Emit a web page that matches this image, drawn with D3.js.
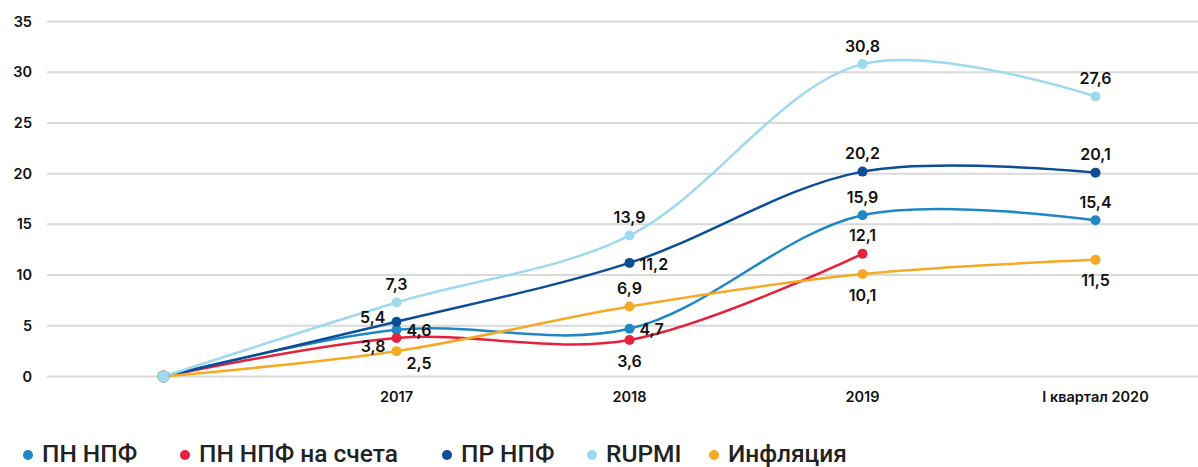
<!DOCTYPE html>
<html>
<head>
<meta charset="utf-8">
<script src="https://cdn.jsdelivr.net/npm/d3@7"></script>
<style>
  body { margin: 0; background: #fff; }
  svg { display: block; }
</style>
</head>
<body>
<div id="chart-area"></div>
<script>
// categories (first one is the unlabeled starting point)
const categories = ["", "2017", "2018", "2019", "I квартал 2020"];
const yTicks = [0, 5, 10, 15, 20, 25, 30, 35];

const seriesNames = ["ПН НПФ", "ПН НПФ на счета", "ПР НПФ", "RUPMI", "Инфляция"];
const pnNpf     = [0, 4.6, 4.7, 15.9, 15.4];
const pnNpfAcc  = [0, 3.8, 3.6, 12.1, null];
const prNpf     = [0, 5.4, 11.2, 20.2, 20.1];
const rupmi     = [0, 7.3, 13.9, 30.8, 27.6];
const inflation = [0, 2.5, 6.9, 10.1, 11.5];

const colors = ["#1f87c6", "#e8203d", "#0b4d97", "#9dd9ef", "#f6a923"];

const WIDTH = 1198, HEIGHT = 467;

// where each value label sits around its point
const labelPos = {
  "ПН НПФ":          [null, "right", "right", "top", "top"],
  "ПН НПФ на счета": [null, "left-bottom", "bottom", "top", null],
  "ПР НПФ":          [null, "left-top", "right", "top", "top"],
  "RUPMI":           [null, "top", "top", "top", "top"],
  "Инфляция":        [null, "right-bottom", "top", "bottom", "bottom"]
};

const values = [pnNpf, pnNpfAcc, prNpf, rupmi, inflation];
const series = seriesNames.map((name, i) => ({
  name,
  color: colors[i],
  points: values[i].map((v, j) => ({ cat: categories[j], v, j })).filter(d => d.v !== null)
}));

const svg = d3.select("#chart-area").append("svg")
  .attr("width", WIDTH)
  .attr("height", HEIGHT);

const x = d3.scaleBand()
  .domain(categories)
  .range([47, 1212]);

const y = d3.scaleLinear()
  .domain([0, 35])
  .range([376.5, 21.5]);

const cx = d => x(d.cat) + x.bandwidth() / 2;

// grid
svg.append("g").selectAll("line").data(yTicks).enter().append("line")
  .attr("x1", 47).attr("x2", WIDTH)
  .attr("y1", d => y(d)).attr("y2", d => y(d))
  .attr("stroke", "#d9d9d9")
  .attr("stroke-width", 2);

svg.append("g").selectAll("text").data(yTicks).enter().append("text")
  .attr("x", 32)
  .attr("y", d => y(d))
  .attr("dy", "0.35em")
  .attr("text-anchor", "end")
  .style("font-family", "Inter, sans-serif")
  .style("font-weight", 600)
  .style("font-size", "14.5px")
  .attr("fill", "#111")
  .text(d => d);

svg.append("g").selectAll("text").data(categories.filter(c => c !== "")).enter().append("text")
  .attr("x", d => x(d) + x.bandwidth() / 2)
  .attr("y", 402)
  .attr("text-anchor", "middle")
  .style("font-family", "Inter, sans-serif")
  .style("font-weight", 600)
  .style("font-size", "14.5px")
  .attr("fill", "#111")
  .text(d => d);

const line = d3.line()
  .x(cx)
  .y(d => y(d.v))
  .curve(d3.curveCatmullRom.alpha(0.5));

// draw RUPMI last so its start dot lies on top
const drawOrder = [0, 1, 2, 4, 3];

drawOrder.forEach(i => {
  const s = series[i];
  svg.append("path")
    .datum(s.points)
    .attr("d", line)
    .attr("fill", "none")
    .attr("stroke", s.color)
    .attr("stroke-width", 2.5);
});

drawOrder.forEach(i => {
  const s = series[i];
  svg.append("g").selectAll("circle").data(s.points).enter().append("circle")
    .attr("cx", cx)
    .attr("cy", d => y(d.v))
    .attr("r", d => d.j === 0 ? 6 : 5)
    .attr("fill", s.color);
});

const fmt = v => String(v).replace(".", ",");
const offsets = {
  "top":          [0, -18, "middle"],
  "bottom":       [0, 21, "middle"],
  "right":        [10, 1, "start"],
  "left-top":     [-11, -4, "end"],
  "left-bottom":  [-11, 8, "end"],
  "right-bottom": [10, 12, "start"]
};

series.forEach(s => {
  svg.append("g").selectAll("text")
    .data(s.points.filter(d => labelPos[s.name][d.j]))
    .enter().append("text")
    .attr("x", d => cx(d) + offsets[labelPos[s.name][d.j]][0])
    .attr("y", d => y(d.v) + offsets[labelPos[s.name][d.j]][1])
    .attr("dy", "0.35em")
    .attr("text-anchor", d => offsets[labelPos[s.name][d.j]][2])
    .style("font-family", "Inter, sans-serif")
    .style("font-weight", 600)
    .style("font-size", "16px")
    .attr("fill", "#111")
    .text(d => fmt(d.v));
});

// legend
const legendX = [28, 185, 447, 592, 714];
const legend = svg.append("g").selectAll("g").data(series).enter().append("g")
  .attr("transform", (d, i) => `translate(${legendX[i]}, 455)`);

legend.append("circle")
  .attr("r", 5)
  .attr("fill", d => d.color);

legend.append("text")
  .attr("x", 14)
  .attr("y", 7)
  .style("font-family", "Roboto, sans-serif")
  .style("font-weight", 500)
  .style("font-size", "24.5px")
  .attr("fill", "#222")
  .text(d => d.name);
</script>
</body>
</html>
